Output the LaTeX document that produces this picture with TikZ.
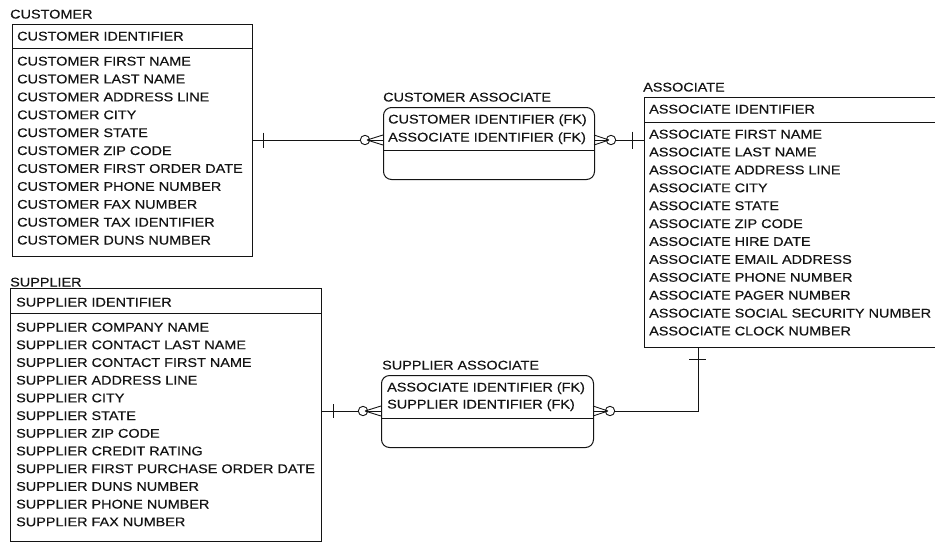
\documentclass[tikz,border=0pt]{standalone}
\usepackage{fontspec}
\newfontfamily\erfont[FakeStretch=1.145, UprightFeatures={FakeBold=0.35}]{Liberation Sans}
\usetikzlibrary{calc}
\definecolor{ink}{RGB}{20,20,20}
\tikzset{
  entbox/.style={draw=ink, line width=1pt, inner sep=0pt, anchor=north west},
  assocbox/.style={entbox, rounded corners=8pt},
  txt/.style={anchor=base west, inner sep=0pt, text=ink,
              font=\erfont\fontsize{12.6}{14}\selectfont},
  rel/.style={draw=ink, line width=0.9pt},
}
\begin{document}
\begin{tikzpicture}[x=1pt, y=-1pt]
\clip (0,0) rectangle (935,542);
\fill[white] (0,0) rectangle (935,542);

% ---------------- CUSTOMER ----------------
\node[txt] (custname) at (10,18.5) {CUSTOMER};
\node[entbox, minimum width=240pt, minimum height=232pt] (cust) at (12,24) {};
\draw[ink, line width=1pt] (cust.west |- 0,48) -- (cust.east |- 0,48);
\node[txt] (ck) at (17,40.5) {CUSTOMER IDENTIFIER};
\foreach \t [count=\i] in {CUSTOMER FIRST NAME, CUSTOMER LAST NAME,
    CUSTOMER ADDRESS LINE, CUSTOMER CITY, CUSTOMER STATE, CUSTOMER ZIP CODE,
    CUSTOMER FIRST ORDER DATE, CUSTOMER PHONE NUMBER, CUSTOMER FAX NUMBER,
    CUSTOMER TAX IDENTIFIER, CUSTOMER DUNS NUMBER}
  \node[txt] (c\i) at (17,{65.5+(\i-1)*17.9}) {\t};

% ---------------- SUPPLIER ----------------
\node[txt] (supname) at (10,286.5) {SUPPLIER};
\node[entbox, minimum width=311pt, minimum height=252.5pt] (sup) at (10,288) {};
\draw[ink, line width=1pt] (sup.west |- 0,313) -- (sup.east |- 0,313);
\node[txt] (sk) at (16,306.5) {SUPPLIER IDENTIFIER};
\foreach \t [count=\i] in {SUPPLIER COMPANY NAME, SUPPLIER CONTACT LAST NAME,
    SUPPLIER CONTACT FIRST NAME, SUPPLIER ADDRESS LINE, SUPPLIER CITY,
    SUPPLIER STATE, SUPPLIER ZIP CODE, SUPPLIER CREDIT RATING,
    SUPPLIER FIRST PURCHASE ORDER DATE, SUPPLIER DUNS NUMBER,
    SUPPLIER PHONE NUMBER, SUPPLIER FAX NUMBER}
  \node[txt] (s\i) at (16,{331.5+(\i-1)*17.7}) {\t};

% ---------------- ASSOCIATE ----------------
\node[txt] (assname) at (643,91.5) {ASSOCIATE};
\node[entbox, minimum width=300pt, minimum height=250pt] (ass) at (644,97) {};
\draw[ink, line width=1pt] (ass.west |- 0,122) -- (ass.east |- 0,122);
\node[txt] (ak) at (649,113.5) {ASSOCIATE IDENTIFIER};
\foreach \t [count=\i] in {ASSOCIATE FIRST NAME, ASSOCIATE LAST NAME,
    ASSOCIATE ADDRESS LINE, ASSOCIATE CITY, ASSOCIATE STATE,
    ASSOCIATE ZIP CODE, ASSOCIATE HIRE DATE, ASSOCIATE EMAIL ADDRESS,
    ASSOCIATE PHONE NUMBER, ASSOCIATE PAGER NUMBER,
    ASSOCIATE SOCIAL SECURITY NUMBER, ASSOCIATE CLOCK NUMBER}
  \node[txt] (a\i) at (649,{138.5+(\i-1)*17.9}) {\t};

% ---------------- CUSTOMER ASSOCIATE ----------------
\node[txt] (caname) at (383,101.5) {CUSTOMER ASSOCIATE};
\node[assocbox, minimum width=211pt, minimum height=72pt] (ca) at (383,107) {};
\draw[ink, line width=1pt] (ca.west |- 0,150) -- (ca.east |- 0,150);
\node[txt] (ca1) at (388,123.5) {CUSTOMER IDENTIFIER (FK)};
\node[txt] (ca2) at (388,141.5) {ASSOCIATE IDENTIFIER (FK)};

% ---------------- SUPPLIER ASSOCIATE ----------------
\node[txt] (saname) at (382,369.5) {SUPPLIER ASSOCIATE};
\node[assocbox, minimum width=212pt, minimum height=72pt] (sa) at (381,375) {};
\draw[ink, line width=1pt] (sa.west |- 0,418) -- (sa.east |- 0,418);
\node[txt] (sa1) at (387,391.5) {ASSOCIATE IDENTIFIER (FK)};
\node[txt] (sa2) at (387,408.5) {SUPPLIER IDENTIFIER (FK)};

% ---------------- relationships ----------------
\coordinate (r1) at (0,140);
\coordinate (r2) at (0,411);
\coordinate (drop) at (698,0);

% CUSTOMER -- CUSTOMER ASSOCIATE
\draw[rel] (cust.east |- r1) -- (ca.west |- r1);
\draw[rel] (263,132.5) -- (263,147.5);
\draw[rel, fill=white] (365,140) circle (4.7);
\draw[rel] (367,140) -- (383,135) (367,140) -- (383,145);

% CUSTOMER ASSOCIATE -- ASSOCIATE
\draw[rel] (ca.east |- r1) -- (ass.west |- r1);
\draw[rel] (632,131.5) -- (632,148.5);
\draw[rel, fill=white] (611,140) circle (4.7);
\draw[rel] (609,140) -- (594,135) (609,140) -- (594,145);

% SUPPLIER -- SUPPLIER ASSOCIATE
\draw[rel] (sup.east |- r2) -- (sa.west |- r2);
\draw[rel] (333,404) -- (333,418);
\draw[rel, fill=white] (363,411) circle (4.7);
\draw[rel] (365,411) -- (381,406) (365,411) -- (381,416);

% SUPPLIER ASSOCIATE -- ASSOCIATE
\draw[rel] (sa.east |- r2) -- (drop |- r2) -- (drop |- ass.south);
\draw[rel] (689,359) -- (706,359);
\draw[rel, fill=white] (610,411) circle (4.7);
\draw[rel] (608,411) -- (593,406) (608,411) -- (593,416);
\end{tikzpicture}
\end{document}
